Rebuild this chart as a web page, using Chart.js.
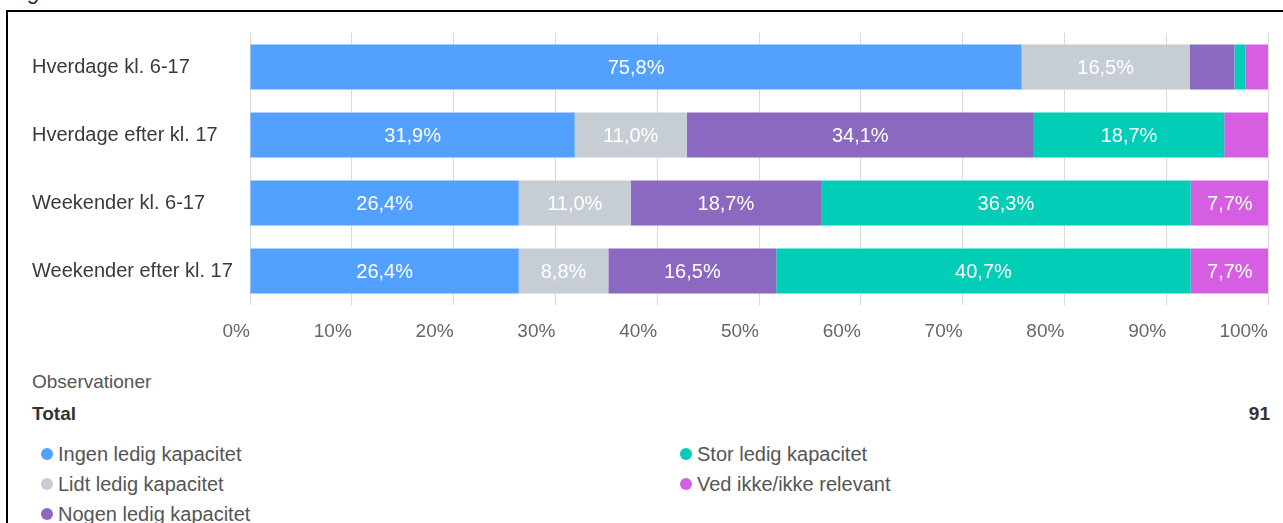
<!DOCTYPE html>
<html>
<head>
<meta charset="utf-8">
<script src="https://cdn.jsdelivr.net/npm/chart.js@4/dist/chart.umd.min.js"></script>
<style>
  html, body { margin:0; padding:0; background:#fff; width:1283px; height:523px; overflow:hidden; font-family:"Liberation Sans", Arial, sans-serif; }
  #cap { position:absolute; left:10px; top:-21px; font-style:italic; font-size:22px; color:#222; white-space:nowrap; }
  #frame { position:absolute; left:6px; top:10px; width:1277px; height:513px; border-left:2px solid #000; border-top:2px solid #000; box-sizing:border-box; }
  #wrap { position:absolute; left:0; top:0; width:1283px; height:345px; }
  #cover { position:absolute; left:1274px; top:13px; width:9px; height:510px; background:#fff; z-index:10; }
  .t { position:absolute; white-space:nowrap; line-height:1; }
  .dot { position:absolute; width:12px; height:12px; border-radius:50%; }
</style>
</head>
<body>
<div id="cap">Figur 36</div>
<div id="frame"></div>
<div id="wrap"><canvas id="c"></canvas></div>
<div id="legend"></div>
<div id="cover"></div>
<script>
const categories = ["Hverdage kl. 6-17", "Hverdage efter kl. 17", "Weekender kl. 6-17", "Weekender efter kl. 17"];
const seriesNames = ["Ingen ledig kapacitet", "Lidt ledig kapacitet", "Nogen ledig kapacitet", "Stor ledig kapacitet", "Ved ikke/ikke relevant"];
const ingen  = [75.8, 31.9, 26.4, 26.4];
const lidt   = [16.5, 11.0, 11.0, 8.8];
const nogen  = [4.4, 34.1, 18.7, 16.5];
const stor   = [1.1, 18.7, 36.3, 40.7];
const vedIkke = [2.2, 4.4, 7.7, 7.7];
const xTicks = [0, 10, 20, 30, 40, 50, 60, 70, 80, 90, 100];
const colors = ["#52a0ff", "#c6cdd4", "#8c69c0", "#02cdb6", "#d65ee2"];
const totalLabel = "Total";
const totalN = 91;

const seriesValues = [ingen, lidt, nogen, stor, vedIkke];

const labelPlugin = {
  id: 'segLabels',
  afterDatasetsDraw(chart) {
    const ctx = chart.ctx;
    ctx.save();
    ctx.font = '20px "Liberation Sans", Arial, sans-serif';
    ctx.fillStyle = '#ffffff';
    ctx.textAlign = 'center';
    ctx.textBaseline = 'middle';
    chart.data.datasets.forEach((ds, di) => {
      const meta = chart.getDatasetMeta(di);
      meta.data.forEach((el, i) => {
        const v = ds.data[i];
        if (v >= 5) {
          const p = el.getCenterPoint();
          ctx.fillText(v.toFixed(1).replace('.', ',') + '%', p.x, p.y + 1);
        }
      });
    });
    ctx.restore();
  }
};

new Chart(document.getElementById('c'), {
  type: 'bar',
  data: {
    labels: categories,
    datasets: seriesNames.map((n, i) => ({
      label: n,
      data: seriesValues[i],
      backgroundColor: colors[i],
      borderWidth: 0,
      barPercentage: 0.662,
      categoryPercentage: 1.0
    }))
  },
  options: {
    indexAxis: 'y',
    responsive: true,
    maintainAspectRatio: false,
    animation: false,
    layout: { padding: { top: 33, left: 32, right: 11, bottom: 0 } },
    plugins: { legend: { display: false }, tooltip: { enabled: false } },
    scales: {
      x: {
        stacked: true,
        min: 0, max: 100,
        afterBuildTicks(scale) { scale.ticks = xTicks.map(v => ({ value: v })); },
        afterFit(scale) { scale.height = 40; },
        grid: { color: '#dadada', drawTicks: false, lineWidth: 1 },
        border: { display: false },
        ticks: {
          align: 'end',
          padding: 15,
          color: '#666666',
          font: { family: '"Liberation Sans", Arial, sans-serif', size: 19 },
          callback: v => v + '%'
        }
      },
      y: {
        stacked: true,
        afterFit(scale) { scale.width = 218; },
        grid: { display: false },
        border: { display: false },
        ticks: {
          crossAlign: 'far',
          color: '#3a3a3a',
          font: { family: '"Liberation Sans", Arial, sans-serif', size: 20 }
        }
      }
    }
  },
  plugins: [labelPlugin]
});

// legend / observations block
const lg = document.getElementById('legend');
function addText(txt, x, y, size, color, weight, right) {
  const d = document.createElement('div');
  d.className = 't';
  d.textContent = txt;
  d.style.fontSize = size + 'px';
  d.style.color = color;
  d.style.fontWeight = weight || 'normal';
  d.style.top = (y - size / 2) + 'px';
  if (right) { d.style.right = (1283 - x) + 'px'; } else { d.style.left = x + 'px'; }
  lg.appendChild(d);
}
addText("Observationer", 32, 381, 19, '#555555');
addText(totalLabel, 32, 413, 19, '#333333', 'bold');
addText(String(totalN), 1270, 413, 19, '#333333', 'bold', true);
const legendPos = [[41, 454], [41, 484], [41, 514], [680, 454], [680, 484]];
seriesNames.forEach((n, i) => {
  const [x, y] = legendPos[i];
  const dot = document.createElement('div');
  dot.className = 'dot';
  dot.style.left = x + 'px';
  dot.style.top = (y - 6) + 'px';
  dot.style.background = colors[i];
  lg.appendChild(dot);
  addText(n, x + 17, y, 20, '#555555');
});
</script>
</body>
</html>
